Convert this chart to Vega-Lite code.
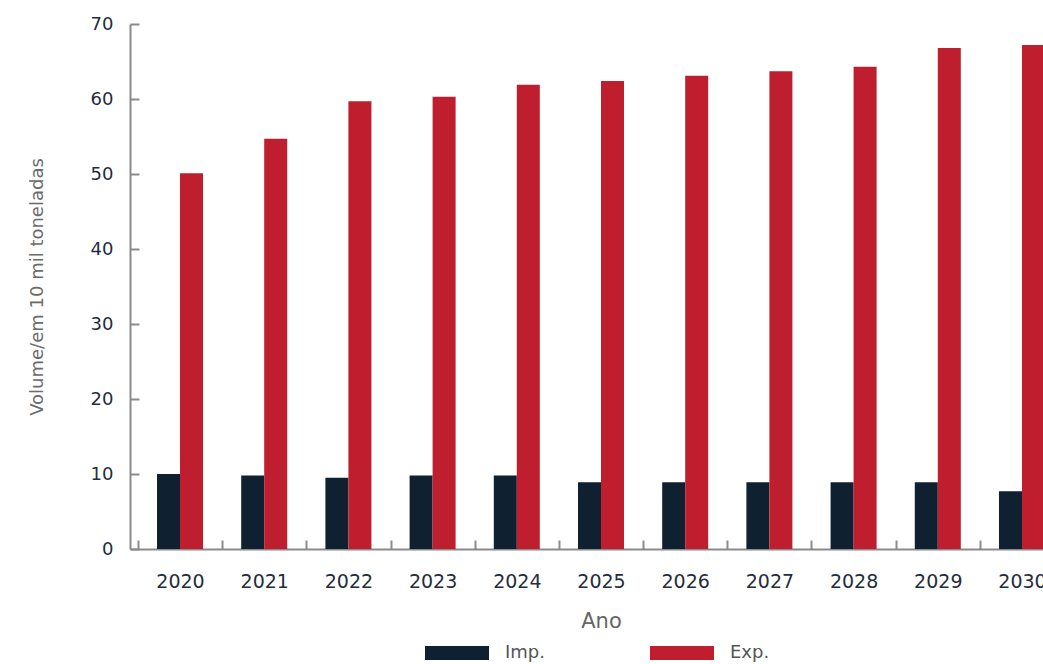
{
  "$schema": "https://vega.github.io/schema/vega-lite/v6.json",
  "autosize": {"type": "none"},
  "padding": {"left": 130, "top": 24, "right": 0, "bottom": 115},
  "width": 913,
  "height": 525,
  "background": "white",
  "config": {
    "view": {"stroke": null},
    "font": "DejaVu Sans"
  },
  "data": {
    "values": [
      {"ano": "2020", "tipo": "Imp.", "volume": 10.0},
      {"ano": "2021", "tipo": "Imp.", "volume": 9.8},
      {"ano": "2022", "tipo": "Imp.", "volume": 9.5},
      {"ano": "2023", "tipo": "Imp.", "volume": 9.8},
      {"ano": "2024", "tipo": "Imp.", "volume": 9.8},
      {"ano": "2025", "tipo": "Imp.", "volume": 8.9},
      {"ano": "2026", "tipo": "Imp.", "volume": 8.9},
      {"ano": "2027", "tipo": "Imp.", "volume": 8.9},
      {"ano": "2028", "tipo": "Imp.", "volume": 8.9},
      {"ano": "2029", "tipo": "Imp.", "volume": 8.9},
      {"ano": "2030", "tipo": "Imp.", "volume": 7.7},
      {"ano": "2020", "tipo": "Exp.", "volume": 50.1},
      {"ano": "2021", "tipo": "Exp.", "volume": 54.7},
      {"ano": "2022", "tipo": "Exp.", "volume": 59.7},
      {"ano": "2023", "tipo": "Exp.", "volume": 60.3},
      {"ano": "2024", "tipo": "Exp.", "volume": 61.9},
      {"ano": "2025", "tipo": "Exp.", "volume": 62.4},
      {"ano": "2026", "tipo": "Exp.", "volume": 63.1},
      {"ano": "2027", "tipo": "Exp.", "volume": 63.7},
      {"ano": "2028", "tipo": "Exp.", "volume": 64.3},
      {"ano": "2029", "tipo": "Exp.", "volume": 66.8},
      {"ano": "2030", "tipo": "Exp.", "volume": 67.2}
    ]
  },
  "mark": {"type": "bar"},
  "encoding": {
    "x": {
      "field": "ano",
      "type": "nominal",
      "scale": {"range": [0, 942], "paddingInner": 0, "paddingOuter": 0.094},
      "axis": {
        "title": "Ano",
        "titleFontSize": 21,
        "titleFontWeight": "normal",
        "titleColor": "#666666",
        "titlePadding": 19,
        "labelAngle": 0,
        "labelFontSize": 19,
        "labelColor": "#1f2d3d",
        "labelPadding": 32,
        "tickBand": "extent",
        "tickSize": -9,
        "tickColor": "#8a8a8a",
        "tickWidth": 2,
        "domainColor": "#8a8a8a",
        "domainWidth": 2,
        "encode": {"labels": {
          "update": {"y": {"signal": "datum.label == '2029' || datum.label == '2030' ? 29 : 23"}}
        }}
      }
    },
    "xOffset": {
      "field": "tipo",
      "type": "nominal",
      "scale": {"domain": ["Imp.", "Exp."], "paddingInner": 0, "paddingOuter": 0.83}
    },
    "y": {
      "field": "volume",
      "type": "quantitative",
      "scale": {"domain": [0, 70], "nice": false},
      "axis": {
        "title": "Volume/em 10 mil toneladas",
        "titleFontSize": 18,
        "titleFontWeight": "normal",
        "titleColor": "#6b6b6b",
        "titlePadding": 44,
        "values": [0, 10, 20, 30, 40, 50, 60, 70],
        "grid": false,
        "labelFontSize": 18,
        "labelColor": "#1f2d3d",
        "labelPadding": 26,
        "tickSize": -9,
        "tickColor": "#8a8a8a",
        "tickWidth": 2,
        "domainColor": "#8a8a8a",
        "domainWidth": 2
      }
    },
    "color": {
      "field": "tipo",
      "type": "nominal",
      "scale": {"domain": ["Imp.", "Exp."], "range": ["#0f2130", "#be1e2d"]},
      "legend": {
        "title": null,
        "orient": "none",
        "direction": "horizontal",
        "legendX": 295,
        "legendY": 597,
        "symbolType": "M-1,-0.22H1V0.22H-1Z",
        "symbolSize": 4096,
        "symbolStrokeWidth": 0,
        "labelFontSize": 18,
        "labelColor": "#555555",
        "labelOffset": 16,
        "columnPadding": 105
      }
    }
  }
}
